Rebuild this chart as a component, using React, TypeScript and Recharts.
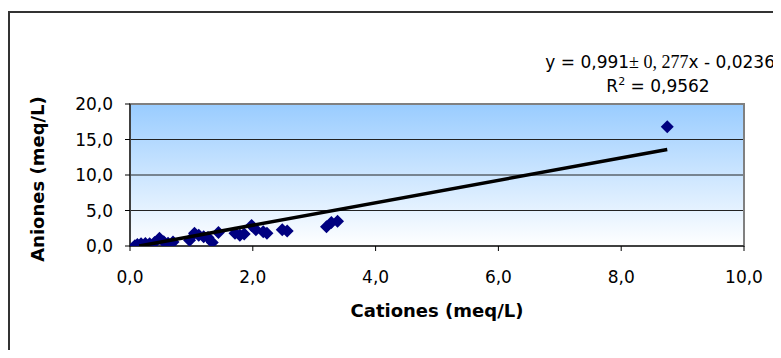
import React from "react";
import {
  ScatterChart,
  Scatter,
  XAxis,
  YAxis,
  CartesianGrid,
  ReferenceArea,
  Label,
} from "recharts";

// Cationes vs aniones (meq/L)
const cationes = [
  0.08, 0.12, 0.18, 0.25, 0.32, 0.4, 0.48, 0.55, 0.62, 0.7, 0.97, 1.05, 1.12,
  1.2, 1.27, 1.34, 1.44, 1.71, 1.79, 1.86, 1.98, 2.05, 2.17, 2.23, 2.48, 2.56,
  3.2, 3.28, 3.38, 8.75,
];
const aniones = [
  0.05, 0.2, 0.3, 0.35, 0.3, 0.5, 1.1, 0.6, 0.4, 0.55, 0.8, 1.8, 1.5, 1.3, 1.2,
  0.5, 1.9, 1.8, 1.5, 1.7, 2.9, 2.3, 2.0, 1.8, 2.3, 2.1, 2.7, 3.3, 3.5, 16.8,
];

// trendline end points
const trendX = [0.15, 8.75];
const trendY = [0.0, 13.6];

const xTicks = [0, 2, 4, 6, 8, 10];
const yTicks = [0, 5, 10, 15, 20];

const points = cationes.map((x, i) => ({ x, y: aniones[i] }));
const trend = trendX.map((x, i) => ({ x, y: trendY[i] }));

const fmt = (v: number) => v.toFixed(1).replace(".", ",");

const FONT = "'DejaVu Sans', 'Liberation Sans', Arial, sans-serif";

const Diamond = (props: any) => {
  const { cx, cy } = props;
  if (cx == null || cy == null) return <g />;
  const r = 6.5;
  return (
    <polygon
      points={`${cx},${cy - r} ${cx + r},${cy} ${cx},${cy + r} ${cx - r},${cy}`}
      fill="#000080"
    />
  );
};

export default function App() {
  return (
    <div style={{ position: "relative", width: 765, height: 342 }}>
      <div
        style={{
          position: "absolute",
          left: 0,
          top: 3,
          right: 0,
          bottom: 0,
          borderLeft: "2px solid #333",
          borderTop: "2px solid #333",
        }}
      />
      <div
        style={{
          position: "absolute",
          left: 0,
          top: 45,
          width: 767,
          textAlign: "right",
          fontFamily: FONT,
          fontSize: 17,
          lineHeight: "18px",
          whiteSpace: "nowrap",
        }}
      >
        y = 0,991
        <span style={{ fontFamily: "'Liberation Serif', serif", fontSize: 18 }}>
          ± 0, 277
        </span>
        x - 0,0236
      </div>
      <div
        style={{
          position: "absolute",
          left: 586,
          top: 69,
          width: 128,
          textAlign: "center",
          fontFamily: FONT,
          fontSize: 17,
          lineHeight: "18px",
          whiteSpace: "nowrap",
        }}
      >
        R<sup style={{ fontSize: 11, lineHeight: 0 }}>2</sup> = 0,9562
      </div>
      <div style={{ position: "absolute", left: 0, top: 0 }}>
        <ScatterChart
          width={765}
          height={342}
          margin={{ top: 96, right: 29, bottom: 34, left: 0 }}
        >
          <defs>
            <linearGradient id="plotBg" x1="0" y1="0" x2="0" y2="1">
              <stop offset="0%" stopColor="#99CCFF" />
              <stop offset="100%" stopColor="#FFFFFF" />
            </linearGradient>
          </defs>
          <CartesianGrid
            vertical={false}
            stroke="#222"
            strokeWidth={1}
            fill="url(#plotBg)"
            fillOpacity={1}
          />
          <ReferenceArea
            x1={0}
            x2={10}
            y1={0}
            y2={20}
            fill="none"
            stroke="#808080"
            strokeWidth={2}
            ifOverflow="extendDomain"
          />
          <XAxis
            type="number"
            dataKey="x"
            domain={[0, 10]}
            ticks={xTicks}
            tickFormatter={fmt}
            height={70}
            stroke="#000"
            tickSize={5}
            tickMargin={20}
            tick={{ fill: "#000", fontSize: 17, fontFamily: FONT }}
            allowDataOverflow
          >
            <Label
              content={(p: any) => {
                const vb = p.viewBox || {};
                return (
                  <text
                    x={vb.x + vb.width / 2}
                    y={vb.y + 64}
                    textAnchor="middle"
                    dominantBaseline="central"
                    fontFamily={FONT}
                    fontWeight="bold"
                    fontSize={18}
                    fill="#000"
                  >
                    Cationes (meq/L)
                  </text>
                );
              }}
            />
          </XAxis>
          <YAxis
            type="number"
            dataKey="y"
            domain={[0, 20]}
            ticks={yTicks}
            tickFormatter={fmt}
            width={122}
            stroke="#000"
            tickSize={5}
            tickMargin={12}
            tick={{ fill: "#000", fontSize: 17, fontFamily: FONT }}
            allowDataOverflow
          >
            <Label
              content={(p: any) => {
                const vb = p.viewBox || {};
                const cx = vb.x + 29;
                const cy = vb.y + vb.height / 2 + 4;
                return (
                  <text
                    x={cx}
                    y={cy}
                    transform={`rotate(-90, ${cx}, ${cy})`}
                    textAnchor="middle"
                    dominantBaseline="central"
                    fontFamily={FONT}
                    fontWeight="bold"
                    fontSize={18}
                    fill="#000"
                  >
                    Aniones (meq/L)
                  </text>
                );
              }}
            />
          </YAxis>
          <Scatter
            data={points}
            shape={Diamond}
            isAnimationActive={false}
          />
          <Scatter
            data={trend}
            line={{ stroke: "#000", strokeWidth: 3.5 }}
            shape={() => <g />}
            isAnimationActive={false}
          />
        </ScatterChart>
      </div>
    </div>
  );
}
